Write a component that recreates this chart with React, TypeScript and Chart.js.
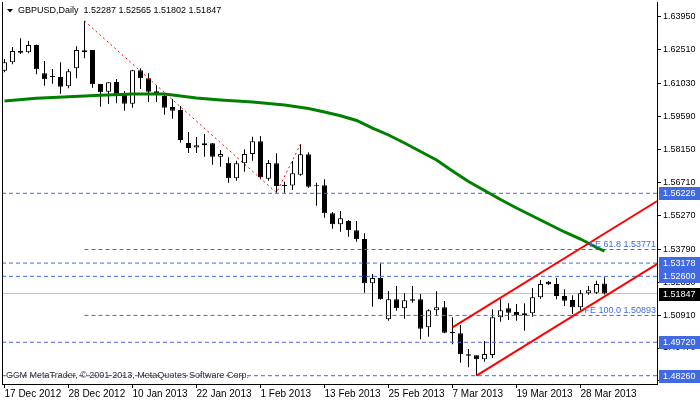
import React, { useEffect, useRef } from 'react';
import { Chart, registerables } from 'chart.js';

Chart.register(...registerables);

// ---- data ----
const dateLabels = ['17 Dec 2012', '28 Dec 2012', '10 Jan 2013', '22 Jan 2013', '1 Feb 2013', '13 Feb 2013', '25 Feb 2013', '7 Mar 2013', '19 Mar 2013', '28 Mar 2013'];
const dateTickIdx = [0, 8, 16, 24, 32, 40, 48, 56, 64, 72];
const yTickValues = [1.6395, 1.6251, 1.6103, 1.5959, 1.5815, 1.5671, 1.5527, 1.5379, 1.5235, 1.5091, 1.4947, 1.4803];

const opens = [
  1.61580, 1.61946, 1.62440, 1.62383, 1.62702, 1.61466, 1.61304, 1.61304, 1.60898, 1.61684,
  1.62383, 1.62484, 1.60999, 1.60662, 1.61086, 1.60549, 1.60139, 1.61597, 1.61248, 1.60680,
  1.60475, 1.59994, 1.59863, 1.58422, 1.58226, 1.58322, 1.58409, 1.57824, 1.57562, 1.56881,
  1.57536, 1.57942, 1.58496, 1.56863, 1.57536, 1.56544, 1.56566, 1.57038, 1.57929, 1.56557,
  1.56575, 1.55352, 1.54872, 1.55016, 1.54610, 1.54230, 1.52296, 1.52527, 1.50723, 1.51597,
  1.51204, 1.51597, 1.51597, 1.50374, 1.51116, 1.51247, 1.50182, 1.50112, 1.49195, 1.49152,
  1.48977, 1.49164, 1.50810, 1.51204, 1.51042, 1.50898, 1.50985, 1.51684, 1.52365, 1.52265,
  1.51741, 1.51566, 1.51247, 1.51858, 1.51884, 1.52287,
];
const highs = [
  1.62091, 1.62615, 1.62994, 1.62877, 1.62720, 1.62003, 1.61654, 1.61946, 1.61654, 1.62645,
  1.63750, 1.62484, 1.60999, 1.61073, 1.61217, 1.60680, 1.61623, 1.61684, 1.61466, 1.60942,
  1.60592, 1.60344, 1.60038, 1.58903, 1.58684, 1.58815, 1.58422, 1.58117, 1.57798, 1.57649,
  1.58147, 1.58697, 1.58728, 1.57680, 1.57973, 1.56732, 1.57636, 1.58379, 1.58016, 1.56689,
  1.56837, 1.55409, 1.55453, 1.55060, 1.55016, 1.54479, 1.52701, 1.53169, 1.51959, 1.52178,
  1.51858, 1.52178, 1.51828, 1.51160, 1.51946, 1.51523, 1.50810, 1.50475, 1.49427, 1.49152,
  1.49776, 1.51160, 1.51597, 1.51422, 1.51392, 1.51422, 1.52090, 1.52439, 1.52396, 1.52527,
  1.52033, 1.51771, 1.52003, 1.52178, 1.52409, 1.52565,
];
const lows = [
  1.61510, 1.61859, 1.62309, 1.62339, 1.61422, 1.60924, 1.61012, 1.60575, 1.60811, 1.61248,
  1.62121, 1.60837, 1.60007, 1.60125, 1.60156, 1.59833, 1.59964, 1.60780, 1.60213, 1.60213,
  1.59658, 1.59483, 1.58435, 1.57986, 1.57986, 1.57824, 1.57475, 1.57387, 1.56689, 1.56776,
  1.57169, 1.57649, 1.56837, 1.56776, 1.56252, 1.56252, 1.56370, 1.56994, 1.56470, 1.55684,
  1.55160, 1.54680, 1.54549, 1.54330, 1.54112, 1.51885, 1.51274, 1.51580, 1.50662, 1.51099,
  1.50749, 1.51448, 1.49850, 1.49963, 1.50898, 1.50112, 1.49631, 1.48828, 1.48627, 1.48260,
  1.48872, 1.49033, 1.50618, 1.50693, 1.50662, 1.50225, 1.50837, 1.51623, 1.52221, 1.51597,
  1.51304, 1.50955, 1.51129, 1.51798, 1.51829, 1.51802,
];
const closes = [
  1.61946, 1.62440, 1.62366, 1.62702, 1.61641, 1.61204, 1.61310, 1.60881, 1.61553, 1.62483,
  1.62470, 1.60986, 1.60636, 1.61073, 1.60549, 1.60139, 1.61597, 1.61248, 1.60662, 1.60531,
  1.59964, 1.59833, 1.58553, 1.58204, 1.58326, 1.58409, 1.57824, 1.57942, 1.56881, 1.57536,
  1.57942, 1.58496, 1.56924, 1.57549, 1.56544, 1.56566, 1.57099, 1.57929, 1.56514, 1.56531,
  1.55352, 1.54872, 1.55134, 1.54610, 1.54217, 1.52296, 1.52527, 1.51597, 1.51597, 1.51204,
  1.51553, 1.51536, 1.50313, 1.51116, 1.51247, 1.50138, 1.50112, 1.49195, 1.49134, 1.48977,
  1.49208, 1.50810, 1.51116, 1.51012, 1.50898, 1.50985, 1.51684, 1.52265, 1.52252, 1.51741,
  1.51536, 1.51247, 1.51858, 1.51989, 1.52265, 1.51847,
];

const maIdx = [0, 4, 8, 12, 16, 20, 22, 24, 27, 31, 35, 38, 40, 42, 44, 46, 48, 50, 52, 54, 56, 58, 60, 62, 64, 66, 68, 70, 72, 74, 75];
const maVal = [
  1.60256, 1.60374, 1.60444, 1.60505, 1.60562, 1.60562, 1.60475, 1.60387, 1.60300, 1.60213,
  1.60082, 1.59929, 1.59776, 1.59615, 1.59405, 1.59077, 1.58772, 1.58422, 1.58051, 1.57680,
  1.57200, 1.56741, 1.56348, 1.55955, 1.55584, 1.55234, 1.54885, 1.54536, 1.54230, 1.53859,
  1.53706,
];

const levelValues = [1.56226, 1.53178, 1.526, 1.4972, 1.4826];
const bidValue = 1.51847;
const fibLevels = [61.8, 100.0];
const fibValues = [1.53771, 1.50893];
const fibStartIdx = 10;
const fibBaseIdx = [10, 34, 37];
const fibBaseVal = [1.6375, 1.56252, 1.58379];
const channelUpperIdx = [56, 81.6];
const channelUpperVal = [1.50374, 1.5589];
const channelLowerIdx = [59, 81.6];
const channelLowerVal = [1.4826, 1.5314];

const titleText = 'GBPUSD,Daily  1.52287 1.52565 1.51802 1.51847';
const copyrightText = 'GCM MetaTrader, \u00A9 2001-2013, MetaQuotes Software Corp.';

// ---- scale ranges ----
const X_MIN = -0.3125;
const X_MAX = X_MIN + 655 / 8;
const Y_MIN = 1.47898;
const Y_MAX = 1.6458;

const FONT = 'Liberation Sans';
const BLUE = '#4169E1';

const hLine = (v: number, from: number) => [
  { x: from, y: v },
  { x: X_MAX, y: v },
];

const decorPlugin = {
  id: 'decor',
  afterDraw(chart: any) {
    const { ctx, chartArea } = chart;
    const ys = chart.scales.y;
    ctx.save();
    // left frame line
    ctx.strokeStyle = '#000';
    ctx.lineWidth = 1;
    ctx.beginPath();
    ctx.moveTo(chartArea.left + 0.5, chartArea.top);
    ctx.lineTo(chartArea.left + 0.5, chartArea.bottom);
    ctx.stroke();

    // title
    ctx.fillStyle = '#000';
    ctx.beginPath();
    ctx.moveTo(7, 9);
    ctx.lineTo(13, 9);
    ctx.lineTo(10, 12.5);
    ctx.closePath();
    ctx.fill();
    ctx.font = `9px "${FONT}"`;
    ctx.textAlign = 'left';
    ctx.textBaseline = 'middle';
    ctx.fillText(titleText, 18, 10.5);

    // copyright
    ctx.fillStyle = '#333';
    ctx.fillText(copyrightText, 6, 376);

    // fib labels
    ctx.fillStyle = BLUE;
    ctx.textAlign = 'right';
    ctx.textBaseline = 'bottom';
    fibLevels.forEach((lv, i) => {
      const py = ys.getPixelForValue(fibValues[i]);
      ctx.fillText(`FE ${lv.toFixed(1)} ${fibValues[i].toFixed(5)}`, chartArea.right - 1, py);
    });

    // price boxes
    ctx.textAlign = 'left';
    ctx.textBaseline = 'middle';
    const box = (v: number, bg: string) => {
      const py = Math.round(ys.getPixelForValue(v));
      ctx.fillStyle = bg;
      ctx.fillRect(chartArea.right + 2, py - 6, 50, 13);
      ctx.fillStyle = '#fff';
      ctx.fillText(v.toFixed(5), chartArea.right + 6, py + 0.5);
    };
    levelValues.forEach((v) => box(v, BLUE));
    box(bidValue, '#000');
    ctx.restore();
  },
};

export default function App() {
  const ref = useRef<HTMLCanvasElement>(null);

  useEffect(() => {
    if (!ref.current) return;
    const wickData = opens.map((_, i) => ({ x: i, y: [lows[i], highs[i]] }));
    const bodyData = opens.map((o, i) => ({ x: i, y: [Math.min(o, closes[i]), Math.max(o, closes[i])] }));
    const bodyColors = opens.map((o, i) => (closes[i] >= o ? '#ffffff' : '#000000'));
    const maData = maIdx.map((x, i) => ({ x, y: maVal[i] }));
    const fibBase = fibBaseIdx.map((x, i) => ({ x, y: fibBaseVal[i] }));

    const lineBase = { type: 'line' as const, pointRadius: 0, fill: false, tension: 0 };

    const datasets: any[] = [
      ...levelValues.map((v, i) => ({
        ...lineBase,
        label: 'level' + i,
        data: hLine(v, X_MIN),
        borderColor: BLUE,
        borderWidth: 1,
        borderDash: [4, 3],
        order: 2,
      })),
      ...fibValues.map((v, i) => ({
        ...lineBase,
        label: 'fe' + i,
        data: hLine(v, fibStartIdx),
        borderColor: BLUE,
        borderWidth: 1,
        borderDash: [4, 3],
        order: 2,
      })),
      {
        ...lineBase,
        label: 'bid',
        data: hLine(bidValue, X_MIN),
        borderColor: '#C0C0C0',
        borderWidth: 1,
        order: 20,
      },
      {
        type: 'bar',
        label: 'wicks',
        data: wickData,
        backgroundColor: '#000',
        borderWidth: 0,
        grouped: false,
        barPercentage: 1,
        categoryPercentage: 1,
        maxBarThickness: 1,
        inflateAmount: 0,
        order: 10,
      },
      {
        type: 'bar',
        label: 'bodies',
        data: bodyData,
        backgroundColor: bodyColors,
        borderColor: '#000',
        borderWidth: 1,
        borderSkipped: false,
        grouped: false,
        barPercentage: 1,
        categoryPercentage: 1,
        maxBarThickness: 5,
        minBarLength: 1,
        inflateAmount: 0,
        order: 9,
      },
      {
        ...lineBase,
        label: 'MA',
        data: maData,
        borderColor: '#008000',
        borderWidth: 3,
        order: 1,
      },
      {
        ...lineBase,
        label: 'fibBase',
        data: fibBase,
        borderColor: '#FF0000',
        borderWidth: 1,
        borderDash: [2, 3],
        order: 0,
      },
      {
        ...lineBase,
        label: 'chanUp',
        data: channelUpperIdx.map((x, i) => ({ x, y: channelUpperVal[i] })),
        borderColor: '#FF0000',
        borderWidth: 2,
        order: 0,
      },
      {
        ...lineBase,
        label: 'chanLow',
        data: channelLowerIdx.map((x, i) => ({ x, y: channelLowerVal[i] })),
        borderColor: '#FF0000',
        borderWidth: 2,
        order: 0,
      },
    ];

    const chart = new Chart(ref.current, {
      type: 'bar',
      data: { datasets },
      plugins: [decorPlugin],
      options: {
        responsive: false,
        animation: false,
        devicePixelRatio: 1,
        layout: { padding: { left: 2, top: 2, right: 0, bottom: 0 } },
        plugins: { legend: { display: false }, tooltip: { enabled: false }, title: { display: false } },
        scales: {
          x: {
            type: 'linear',
            offset: false,
            min: X_MIN,
            max: X_MAX,
            afterBuildTicks: (s: any) => {
              s.ticks = dateTickIdx.map((v) => ({ value: v }));
            },
            afterFit: (s: any) => {
              s.height = 18;
              s.paddingLeft = 0;
              s.paddingRight = 0;
            },
            grid: { offset: false, drawOnChartArea: false, drawTicks: true, tickLength: 4, color: '#000' },
            border: { display: true, color: '#000' },
            ticks: {
              color: '#000',
              font: { family: FONT, size: 10 },
              align: 'start',
              maxRotation: 0,
              autoSkip: false,
              padding: 0,
              callback: (v: any) => {
                const k = dateTickIdx.indexOf(Number(v));
                return k >= 0 ? dateLabels[k] : '';
              },
            },
          },
          y: {
            type: 'linear',
            position: 'right',
            min: Y_MIN,
            max: Y_MAX,
            afterBuildTicks: (s: any) => {
              s.ticks = yTickValues.map((v) => ({ value: v }));
            },
            afterFit: (s: any) => {
              s.width = 43;
              s.paddingTop = 0;
              s.paddingBottom = 0;
            },
            grid: { drawOnChartArea: false, drawTicks: true, tickLength: 4, color: '#000' },
            border: { display: true, color: '#000' },
            ticks: {
              color: '#000',
              font: { family: FONT, size: 9 },
              padding: 2,
              autoSkip: false,
              callback: (v: any) => Number(v).toFixed(5),
            },
          },
        },
      } as any,
    });
    return () => chart.destroy();
  }, []);

  return (
    <div style={{ position: 'fixed', left: 0, top: 0, width: 700, height: 402, background: '#fff' }}>
      <canvas ref={ref} width={700} height={402} style={{ display: 'block', width: 700, height: 402 }} />
    </div>
  );
}
